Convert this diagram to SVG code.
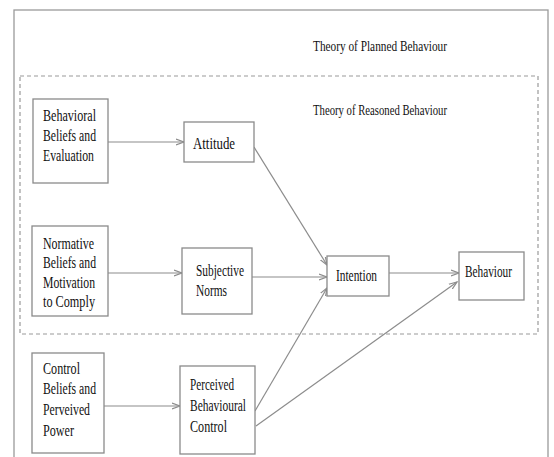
<svg xmlns="http://www.w3.org/2000/svg" width="554" height="457" viewBox="0 0 554 457">
<defs>
<style>
.box{fill:#fff;stroke:#8a8a8a;stroke-width:1.3}
.t{font-family:"Liberation Serif","Times New Roman",serif;font-size:16px;fill:#111}
.h{font-family:"Liberation Serif","Times New Roman",serif;font-size:15px;fill:#111}
.c{stroke:#8c8c8c;stroke-width:1.2;fill:none;marker-end:url(#ah)}
</style>
<marker id="ah" markerWidth="10" markerHeight="8" refX="8" refY="4" orient="auto" markerUnits="userSpaceOnUse">
<path d="M0,1 L8,4 L0,7" fill="none" stroke="#8c8c8c" stroke-width="1.2"/>
</marker>
</defs>
<rect width="554" height="457" fill="#fff"/>
<rect x="14" y="10" width="534" height="470" fill="none" stroke="#9a9a9a" stroke-width="1.3"/>
<rect x="20" y="76" width="518" height="258" fill="none" stroke="#9a9a9a" stroke-width="1.2" stroke-dasharray="4,3"/>
<text class="h" x="313" y="51" textLength="134" lengthAdjust="spacingAndGlyphs">Theory of Planned Behaviour</text>
<text class="h" x="313" y="115" textLength="134" lengthAdjust="spacingAndGlyphs">Theory of Reasoned Behaviour</text>

<g id="connectors">
<line class="c" x1="108" y1="142" x2="184" y2="142"/>
<line class="c" x1="254" y1="147" x2="327" y2="265"/>
<line class="c" x1="108" y1="273" x2="182" y2="273"/>
<line class="c" x1="252" y1="277" x2="327" y2="277"/>
<line class="c" x1="389" y1="273" x2="459" y2="273"/>
<line class="c" x1="104" y1="406" x2="180" y2="406"/>
<line class="c" x1="255" y1="411" x2="327" y2="288"/>
<line class="c" x1="256" y1="426" x2="457" y2="282"/>
</g>

<g id="behavioral-beliefs">
<rect class="box" x="33" y="99" width="75" height="84"/>
<text class="t" x="43" y="121" textLength="53" lengthAdjust="spacingAndGlyphs">Behavioral</text>
<text class="t" x="43" y="141" textLength="53" lengthAdjust="spacingAndGlyphs">Beliefs and</text>
<text class="t" x="43" y="161" textLength="51" lengthAdjust="spacingAndGlyphs">Evaluation</text>
</g>
<g id="attitude">
<rect class="box" x="184" y="122" width="70" height="40"/>
<text class="t" x="193" y="149" textLength="42" lengthAdjust="spacingAndGlyphs">Attitude</text>
</g>
<g id="normative-beliefs">
<rect class="box" x="32" y="226" width="76" height="90"/>
<text class="t" x="43" y="249" textLength="51" lengthAdjust="spacingAndGlyphs">Normative</text>
<text class="t" x="43" y="268" textLength="53" lengthAdjust="spacingAndGlyphs">Beliefs and</text>
<text class="t" x="43" y="288" textLength="52" lengthAdjust="spacingAndGlyphs">Motivation</text>
<text class="t" x="43" y="307" textLength="52" lengthAdjust="spacingAndGlyphs">to Comply</text>
</g>
<g id="subjective-norms">
<rect class="box" x="182" y="248" width="70" height="66"/>
<text class="t" x="196" y="276" textLength="48" lengthAdjust="spacingAndGlyphs">Subjective</text>
<text class="t" x="196" y="296" textLength="31" lengthAdjust="spacingAndGlyphs">Norms</text>
</g>
<g id="intention">
<rect class="box" x="327" y="256" width="62" height="40"/>
<text class="t" x="336" y="281" textLength="41" lengthAdjust="spacingAndGlyphs">Intention</text>
</g>
<g id="behaviour">
<rect class="box" x="459" y="252" width="65" height="48"/>
<text class="t" x="465" y="277" textLength="47" lengthAdjust="spacingAndGlyphs">Behaviour</text>
</g>
<g id="control-beliefs">
<rect class="box" x="32" y="353" width="72" height="100"/>
<text class="t" x="43" y="374" textLength="37" lengthAdjust="spacingAndGlyphs">Control</text>
<text class="t" x="43" y="394" textLength="53" lengthAdjust="spacingAndGlyphs">Beliefs and</text>
<text class="t" x="43" y="415" textLength="47" lengthAdjust="spacingAndGlyphs">Perveived</text>
<text class="t" x="43" y="436" textLength="31" lengthAdjust="spacingAndGlyphs">Power</text>
</g>
<g id="perceived-control">
<rect class="box" x="180" y="366" width="75" height="88"/>
<text class="t" x="190" y="390" textLength="44" lengthAdjust="spacingAndGlyphs">Perceived</text>
<text class="t" x="190" y="411" textLength="56" lengthAdjust="spacingAndGlyphs">Behavioural</text>
<text class="t" x="190" y="432" textLength="37" lengthAdjust="spacingAndGlyphs">Control</text>
</g>
</svg>
